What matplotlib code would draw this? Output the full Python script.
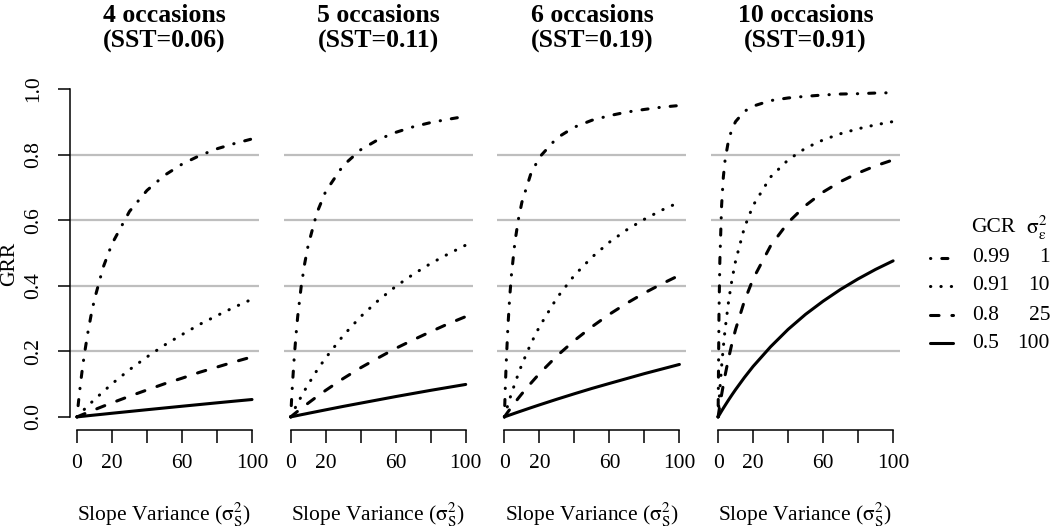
import matplotlib
matplotlib.use("Agg")
import matplotlib.pyplot as plt

plt.rcParams['font.family'] = ['Liberation Serif', 'DejaVu Serif']
plt.rcParams['mathtext.fontset'] = 'stix'

slope_var = [0, 0.5, 1, 2, 3, 4, 6, 8, 10, 15, 20, 30, 40, 50, 60, 70, 80, 90, 100]

titles = ["4 occasions\n(SST=0.06)", "5 occasions\n(SST=0.11)",
          "6 occasions\n(SST=0.19)", "10 occasions\n(SST=0.91)"]

gcr_labels = ["0.99", "0.91", "0.8", "0.5"]
sigma_labels = ["1", "10", "25", "100"]

# GRR curves per panel, one list per residual variance (1, 10, 25, 100)
grr_4occ = [
    [0, 0.027, 0.053, 0.101, 0.144, 0.183, 0.251, 0.309, 0.359, 0.457, 0.528, 0.627, 0.691, 0.737, 0.771, 0.797, 0.818, 0.834, 0.848],
    [0, 0.0028, 0.0056, 0.011, 0.0165, 0.022, 0.033, 0.0429, 0.053, 0.077, 0.101, 0.144, 0.183, 0.219, 0.251, 0.282, 0.309, 0.335, 0.359],
    [0, 0.0011, 0.0022, 0.0045, 0.0067, 0.0089, 0.0133, 0.0176, 0.0219, 0.0325, 0.0429, 0.063, 0.0822, 0.101, 0.118, 0.136, 0.152, 0.168, 0.183],
    [0, 0.0003, 0.00056, 0.0011, 0.0017, 0.0022, 0.0034, 0.0045, 0.0056, 0.0083, 0.0111, 0.0165, 0.0219, 0.0272, 0.0325, 0.0377, 0.0429, 0.048, 0.053],
]
grr_5occ = [
    [0, 0.052, 0.099, 0.180, 0.248, 0.306, 0.398, 0.468, 0.524, 0.623, 0.688, 0.767, 0.815, 0.846, 0.868, 0.885, 0.898, 0.908, 0.917],
    [0, 0.0055, 0.011, 0.0215, 0.032, 0.042, 0.062, 0.081, 0.099, 0.142, 0.180, 0.248, 0.306, 0.355, 0.398, 0.435, 0.468, 0.497, 0.524],
    [0, 0.0022, 0.0044, 0.0087, 0.013, 0.0173, 0.0257, 0.034, 0.042, 0.062, 0.081, 0.117, 0.150, 0.180, 0.209, 0.235, 0.260, 0.284, 0.306],
    [0, 0.00055, 0.0011, 0.0022, 0.0033, 0.0044, 0.0066, 0.0087, 0.0109, 0.0162, 0.0215, 0.032, 0.042, 0.052, 0.062, 0.0715, 0.081, 0.090, 0.099],
]
grr_6occ = [
    [0, 0.087, 0.160, 0.275, 0.363, 0.432, 0.533, 0.603, 0.655, 0.740, 0.792, 0.851, 0.884, 0.905, 0.919, 0.930, 0.938, 0.945, 0.950],
    [0, 0.0094, 0.0186, 0.0366, 0.054, 0.0706, 0.102, 0.132, 0.160, 0.222, 0.275, 0.363, 0.432, 0.487, 0.533, 0.571, 0.603, 0.631, 0.655],
    [0, 0.0038, 0.0075, 0.015, 0.0223, 0.0295, 0.0436, 0.0573, 0.0706, 0.102, 0.132, 0.186, 0.233, 0.275, 0.313, 0.347, 0.378, 0.406, 0.432],
    [0, 0.00095, 0.0019, 0.0038, 0.0057, 0.0075, 0.0113, 0.015, 0.0186, 0.0277, 0.0366, 0.0539, 0.0706, 0.0868, 0.102, 0.117, 0.132, 0.146, 0.160],
]
grr_10occ = [
    [0, 0.313, 0.476, 0.645, 0.732, 0.784, 0.845, 0.879, 0.901, 0.932, 0.948, 0.965, 0.973, 0.978, 0.982, 0.985, 0.986, 0.988, 0.989],
    [0, 0.0435, 0.0834, 0.154, 0.214, 0.267, 0.353, 0.421, 0.476, 0.577, 0.645, 0.732, 0.784, 0.820, 0.845, 0.864, 0.879, 0.891, 0.901],
    [0, 0.0179, 0.0351, 0.0679, 0.098, 0.127, 0.179, 0.226, 0.267, 0.353, 0.421, 0.522, 0.593, 0.645, 0.686, 0.718, 0.744, 0.766, 0.784],
    [0, 0.0045, 0.009, 0.0179, 0.0266, 0.0351, 0.0518, 0.0679, 0.0834, 0.120, 0.154, 0.214, 0.267, 0.313, 0.353, 0.389, 0.421, 0.450, 0.476],
]
panels = [grr_4occ, grr_5occ, grr_6occ, grr_10occ]

# R-like line types: dotdash, dotted, dashed, solid
styles = [(0, (0.1, 3.6, 2.0, 3.6)), (0, (0.1, 3.3)), (0, (2.8, 4.2)), '-']
LW = 2.2
FS = 15.5
W, H = 1050, 529


def px_axes(left, bottom, width, height):
    return [left / W, 1 - bottom / H, width / W, height / H]


fig = plt.figure(figsize=(10.5, 5.29), dpi=100)

for i, curves in enumerate(panels):
    left = 70 + i * 213.7
    ax = fig.add_axes(px_axes(left, 430, 189, 354))
    ax.set_xlim(-4, 104)
    ax.set_ylim(-0.04, 1.04)
    for y in [0.2, 0.4, 0.6, 0.8]:
        ax.axhline(y, color='#bebebe', lw=1.6, zorder=1)
    for vals, ls in zip(curves, styles):
        ax.plot(slope_var, vals, color='black', lw=LW, linestyle=ls,
                dash_capstyle='round', solid_capstyle='round', zorder=3)

    for s in ['top', 'right']:
        ax.spines[s].set_visible(False)
    ax.spines['bottom'].set_bounds(0, 100)
    ax.spines['bottom'].set_linewidth(1.1)
    ax.set_xticks([0, 20, 40, 60, 80, 100])
    ax.set_xticklabels(['0', '20', '', '60', '', '100'])
    ax.tick_params(axis='x', length=9, width=1.1, pad=8, labelsize=FS)

    if i == 0:
        ax.spines['left'].set_bounds(0, 1)
        ax.spines['left'].set_linewidth(1.1)
        ax.set_yticks([0, 0.2, 0.4, 0.6, 0.8, 1.0])
        ax.set_yticklabels(['0.0', '0.2', '0.4', '0.6', '0.8', '1.0'],
                           rotation=90, va='center')
        ax.tick_params(axis='y', length=9, width=1.1, pad=10, labelsize=FS)
        ax.text(-0.32, 0.47, "GRR", rotation=90, transform=ax.transAxes,
                ha='center', va='center', fontsize=FS)
    else:
        ax.spines['left'].set_visible(False)
        ax.set_yticks([])

    ax.text(0.5, -0.24, r'Slope Variance ($\mathrm{\sigma}_\mathrm{S}^2$)',
            transform=ax.transAxes, ha='center', va='center', fontsize=FS)
    ax.text(0.5, 1.135, titles[i], transform=ax.transAxes, ha='center',
            va='center', fontsize=18.5, fontweight='bold', linespacing=1.15)

# legend drawn by hand in pixel space
lg = fig.add_axes([0, 0, 1, 1], facecolor='none')
lg.set_xlim(0, W)
lg.set_ylim(H, 0)
lg.axis('off')
lg.text(971, 228, "GCR", ha='left', va='center', fontsize=FS)
lg.text(1026, 228, r'$\mathrm{\sigma}_\mathrm{\varepsilon}^2$', ha='left',
        va='center', fontsize=FS)
rows_y = [258, 286, 315, 343]
for ls, g, s, y in zip(styles, gcr_labels, sigma_labels, rows_y):
    lg.plot([930, 953], [y, y], color='black', lw=LW, linestyle=ls,
            dash_capstyle='round', solid_capstyle='round')
    lg.text(972, y, g, ha='left', va='center', fontsize=FS)
    lg.text(1050, y, s, ha='right', va='center', fontsize=FS)

fig.savefig("out.png", dpi=100)
